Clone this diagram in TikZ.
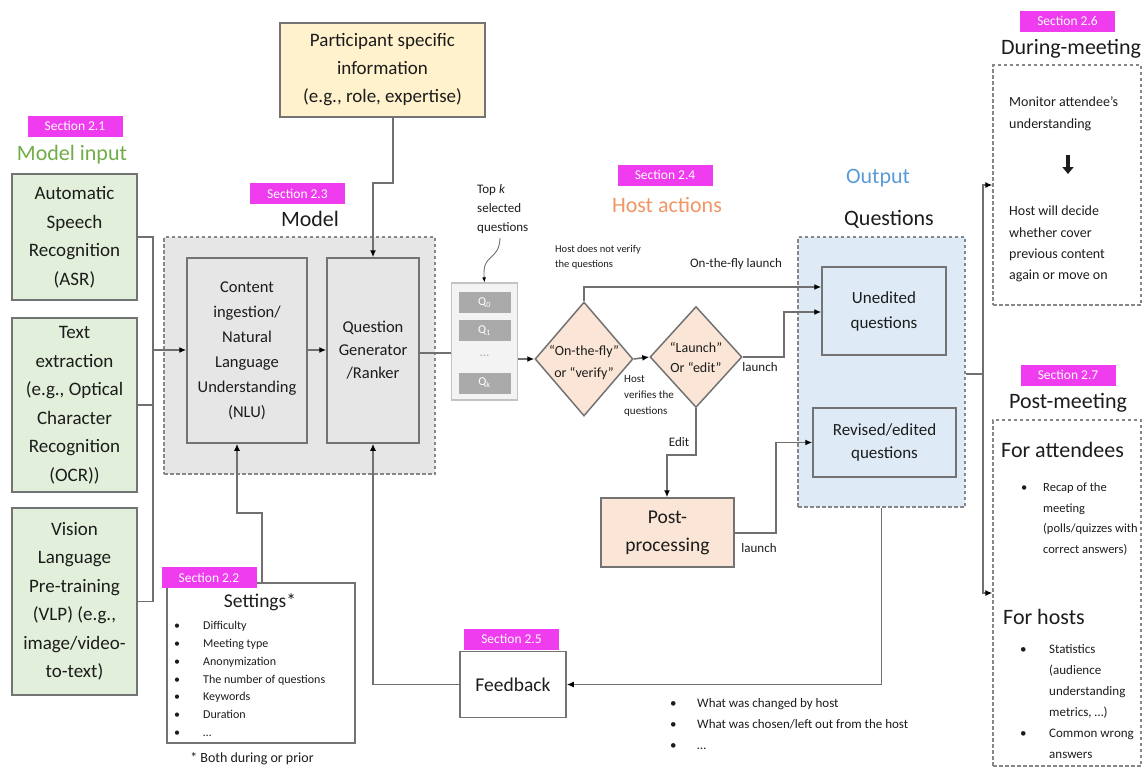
\documentclass[tikz,border=0pt]{standalone}
\usepackage{fontspec}
\setmainfont{Carlito}
\usetikzlibrary{shapes.geometric,arrows.meta}

\definecolor{ink}{RGB}{28,28,28}
\definecolor{wire}{RGB}{112,112,112}
\definecolor{edge}{RGB}{115,115,115}
\definecolor{dashc}{RGB}{135,135,135}
\definecolor{ingreen}{RGB}{226,239,218}
\definecolor{hdgreen}{RGB}{112,173,71}
\definecolor{mdgray}{RGB}{231,230,230}
\definecolor{ptyellow}{RGB}{255,242,204}
\definecolor{peach}{RGB}{251,229,214}
\definecolor{outblue}{RGB}{222,235,247}
\definecolor{hdblue}{RGB}{91,155,213}
\definecolor{hdorange}{RGB}{240,150,100}
\definecolor{tagpink}{RGB}{238,60,238}
\definecolor{qfill}{RGB}{170,170,170}
\definecolor{stackfill}{RGB}{243,243,243}
\definecolor{stackedge}{RGB}{195,195,195}

\tikzset{
  box/.style={draw=edge, line width=1.5pt, align=center, inner sep=0pt, text=ink},
  dashbox/.style={draw=dashc, line width=1.3pt, dash pattern=on 3.5pt off 2.5pt, inner sep=0pt},
  tag/.style={fill=tagpink, text=white, minimum width=95pt, minimum height=21pt, inner sep=0pt, font=\fontsize{13.5}{15}\selectfont},
  title/.style={font=\fontsize{22}{26}\selectfont, text=ink, inner sep=0pt},
  wire/.style={draw=wire, line width=1.6pt},
  arr/.style={wire, -{Latex[length=7pt,width=6pt,color=black]}},
  lbl/.style={text=ink, inner sep=0pt, align=left},
  qbox/.style={fill=qfill, text=white, minimum width=52pt, minimum height=21pt, inner sep=0pt, font=\fontsize{12}{14}\selectfont},
  diabox/.style={diamond, draw=edge, line width=1.5pt, fill=peach, inner sep=0pt},
}

\begin{document}
\begin{tikzpicture}[x=1pt,y=-1pt]
\useasboundingbox (0,0) rectangle (1144,769);

% ---------- model input ----------
\node[tag] (tag21) at (75,126) {Section 2.1};
\node[title, text=hdgreen] (hinput) at (72,155) {Model input};
\node[box, fill=ingreen, minimum width=125pt, minimum height=126pt, font=\fontsize{19}{28.5}\selectfont] (asr) at (74.5,237) {Automatic\\Speech\\Recognition\\(ASR)};
\node[box, fill=ingreen, minimum width=125pt, minimum height=174pt, font=\fontsize{19}{28.5}\selectfont] (ocr) at (74.5,405) {Text\\extraction\\(e.g., Optical\\Character\\Recognition\\(OCR))};
\node[box, fill=ingreen, minimum width=125pt, minimum height=187pt, font=\fontsize{19}{28.5}\selectfont] (vlp) at (74.5,601.5) {Vision\\Language\\Pre-training\\(VLP) (e.g.,\\image/video-\\to-text)};

% ---------- participant information ----------
\node[box, fill=ptyellow, minimum width=205pt, minimum height=94pt, font=\fontsize{19}{28}\selectfont] (part) at (382.5,70) {Participant specific\\information\\(e.g., role, expertise)};

% ---------- model ----------
\node[tag] (tag23) at (297.5,193.5) {Section 2.3};
\node[title] (hmodel) at (310,219) {Model};
\node[dashbox, fill=mdgray, minimum width=271pt, minimum height=237pt] (model) at (299.5,355.5) {};
\node[box, fill=mdgray, minimum width=120pt, minimum height=185pt, font=\fontsize{16.5}{25}\selectfont] (nlu) at (247,350.5) {Content\\ingestion/\\Natural\\Language\\Understanding\\(NLU)};
\node[box, fill=mdgray, minimum width=92pt, minimum height=185pt, font=\fontsize{16.5}{23}\selectfont] (qg) at (373,350.5) {Question\\Generator\\/Ranker};

% ---------- settings ----------
\node[box, minimum width=188pt, minimum height=160pt] (set) at (261,663) {};
\node[tag] (tag22) at (209,577.5) {Section 2.2};
\node[title, font=\fontsize{19.5}{24}\selectfont] (settitle) at (260,602) {Settings*};
\node[lbl, anchor=north west, font=\fontsize{12}{17.8}\selectfont] (setlist) at (174,617)
  {\begin{tabular}{@{}p{29pt}@{}l@{}}
   •&Difficulty\\ •&Meeting type\\ •&Anonymization\\ •&The number of questions\\
   •&Keywords\\ •&Duration\\ •&…
   \end{tabular}};
\node[lbl, font=\fontsize{14}{16}\selectfont] (setnote) at (252,759) {* Both during or prior};

% ---------- top-k questions ----------
\node[lbl, anchor=west, font=\fontsize{13}{19}\selectfont] (topk) at (477,209) {Top \textit{k}\\selected\\questions};
\node[draw=stackedge, fill=stackfill, line width=1.2pt, minimum width=66pt, minimum height=117pt, inner sep=0pt] (stack) at (484.5,341.5) {};
\node[qbox] (q0) at (484.5,302.5) {Q\textsubscript{0}};
\node[qbox] (q1) at (484.5,330.5) {Q\textsubscript{1}};
\node[text=qfill, inner sep=0pt, font=\fontsize{13}{14}\selectfont] (qdots) at (484.5,356) {…};
\node[qbox] (qk) at (484.5,383) {Q\textsubscript{k}};

% ---------- host actions ----------
\node[tag] (tag24) at (665,175) {Section 2.4};
\node[title, text=hdorange] (hhost) at (667,205) {Host actions};
\node[diabox, minimum width=98pt, minimum height=114pt] (dia1) at (584,359) {};
\node[text=ink, align=center, inner sep=0pt, font=\fontsize{14}{22}\selectfont] (dia1t) at (584,363) {``On-the-fly''\\or ``verify''};
\node[diabox, minimum width=92pt, minimum height=101pt] (dia2) at (696,357) {};
\node[text=ink, align=center, inner sep=0pt, font=\fontsize{14}{20}\selectfont] (dia2t) at (696,357) {``Launch''\\Or ``edit''};
\node[box, fill=peach, minimum width=133pt, minimum height=69pt, font=\fontsize{19.5}{28}\selectfont] (post) at (667.5,532.5) {Post-\\processing};

\node[lbl, anchor=west, font=\fontsize{10.5}{15}\selectfont] (lnover) at (555,257.5) {Host does not verify\\the questions};
\node[lbl, anchor=west, font=\fontsize{11}{16}\selectfont] (lver) at (624,396) {Host\\verifies the\\questions};
\node[lbl, font=\fontsize{13}{15}\selectfont] (lfly) at (736,264) {On-the-fly launch};
\node[lbl, font=\fontsize{13}{15}\selectfont] (llaunchA) at (760,367) {launch};
\node[lbl, font=\fontsize{13}{15}\selectfont] (ledit) at (679,442) {Edit};
\node[lbl, font=\fontsize{13}{15}\selectfont] (llaunchB) at (759,548) {launch};

% ---------- output ----------
\node[title, text=hdblue] (hout) at (878,178) {Output};
\node[title] (hques) at (889,219) {Questions};
\node[dashbox, fill=outblue, minimum width=167pt, minimum height=270pt] (output) at (881.5,372) {};
\node[box, fill=outblue, minimum width=124pt, minimum height=88pt, font=\fontsize{17}{25}\selectfont] (uned) at (884,311) {Unedited\\questions};
\node[box, fill=outblue, minimum width=143pt, minimum height=69pt, font=\fontsize{17}{23}\selectfont] (rev) at (884.5,442.5) {Revised/edited\\questions};

% ---------- feedback ----------
\node[box, minimum width=106pt, minimum height=66pt, font=\fontsize{19.5}{24}\selectfont] (fb) at (513,684.5) {Feedback};
\node[tag] (tag25) at (511.5,639) {Section 2.5};
\node[lbl, anchor=west, font=\fontsize{13}{21}\selectfont] (fblist) at (670,724)
  {\begin{tabular}{@{}p{27pt}@{}l@{}}
   •&What was changed by host\\ •&What was chosen/left out from the host\\ •&…
   \end{tabular}};

% ---------- during-meeting ----------
\node[tag] (tag26) at (1067.5,21) {Section 2.6};
\node[title] (hduring) at (1071,49) {During-meeting};
\node[dashbox, minimum width=148pt, minimum height=240pt] (during) at (1067,185) {};
\node[lbl, anchor=west, font=\fontsize{14}{22}\selectfont] (monitor) at (1009,114) {Monitor attendee's\\understanding};
\draw[line width=3.5pt, draw=ink, -{Triangle[length=7pt,width=11pt,color=ink]}] (1068,155) -- (1068,174);
\node[lbl, anchor=west, font=\fontsize{14}{21.3}\selectfont] (decide) at (1009,244) {Host will decide\\whether cover\\previous content\\again or move on};

% ---------- post-meeting ----------
\node[tag] (tag27) at (1068,375) {Section 2.7};
\node[title] (hpost) at (1068,403) {Post-meeting};
\node[dashbox, minimum width=148pt, minimum height=346pt] (postm) at (1067,593) {};
\node[lbl, anchor=west, font=\fontsize{22}{26}\selectfont] (fatt) at (1001,450) {For attendees};
\node[lbl, anchor=west, font=\fontsize{12.5}{20.5}\selectfont] (attlist) at (1021,518.5)
  {\begin{tabular}{@{}p{22pt}@{}l@{}}
   •&Recap of the\\ &meeting\\ &(polls/quizzes with\\ &correct answers)
   \end{tabular}};
\node[lbl, anchor=west, font=\fontsize{22}{26}\selectfont] (fhost) at (1003,617) {For hosts};
\node[lbl, anchor=west, font=\fontsize{13}{21}\selectfont] (hostlist) at (1020,702)
  {\begin{tabular}{@{}p{29pt}@{}l@{}}
   •&Statistics\\ &(audience\\ &understanding\\ &metrics, …)\\ •&Common wrong\\ &answers
   \end{tabular}};

% ---------- connectors ----------
\coordinate (inbus) at (153,350);
\draw[wire] (asr.east) -| (inbus);
\draw[wire] (ocr.east) -| (inbus);
\draw[wire] (vlp.east) -| (inbus);
\draw[arr] (inbus) -- (nlu.west |- inbus);
\draw[arr] (nlu.east |- inbus) -- (qg.west |- inbus);

\coordinate (pjog) at (393,183);
\draw[arr] (part.south -| pjog) -- (pjog) -| (qg.north);

\coordinate (sjog) at (262,513);
\coordinate (nluin) at (237,0);
\draw[arr] (set.north -| sjog) -- (sjog) -| (nlu.south -| nluin);

\coordinate (ky) at (0,353);
\draw[wire] (qg.east |- ky) -- (stack.west |- ky);
\draw[arr] (stack.east |- dia1) -- (dia1.west);
\coordinate (tkc) at (500,238);
\draw[draw=wire, line width=0.9pt, -{Latex[length=5pt,width=4pt,color=black]}] (tkc) .. controls (499,262) and (482,252) .. (stack.north);

\draw[arr] (dia1.east) -- (dia2.west);
\coordinate (fly) at (0,287);
\draw[arr] (dia1.north) |- (uned.west |- fly);
\coordinate (lj1) at (784,312);
\draw[arr] (dia2.east) -| (lj1) -- (uned.west |- lj1);
\coordinate (ej) at (667,455);
\draw[arr] (dia2.south) |- (ej) -- (post.north -| ej);
\coordinate (lj2) at (776,533);
\draw[arr] (post.east |- lj2) -- (lj2) |- (rev.west);

\coordinate (rbus) at (983,374);
\draw[wire] (output.east |- rbus) -- (rbus);
\draw[arr] (rbus) |- (during.west);
\draw[arr] (rbus) |- (postm.west);

\draw[arr] (output.south) |- (fb.east);
\draw[arr] (fb.west) -| (qg.south);
\end{tikzpicture}
\end{document}
